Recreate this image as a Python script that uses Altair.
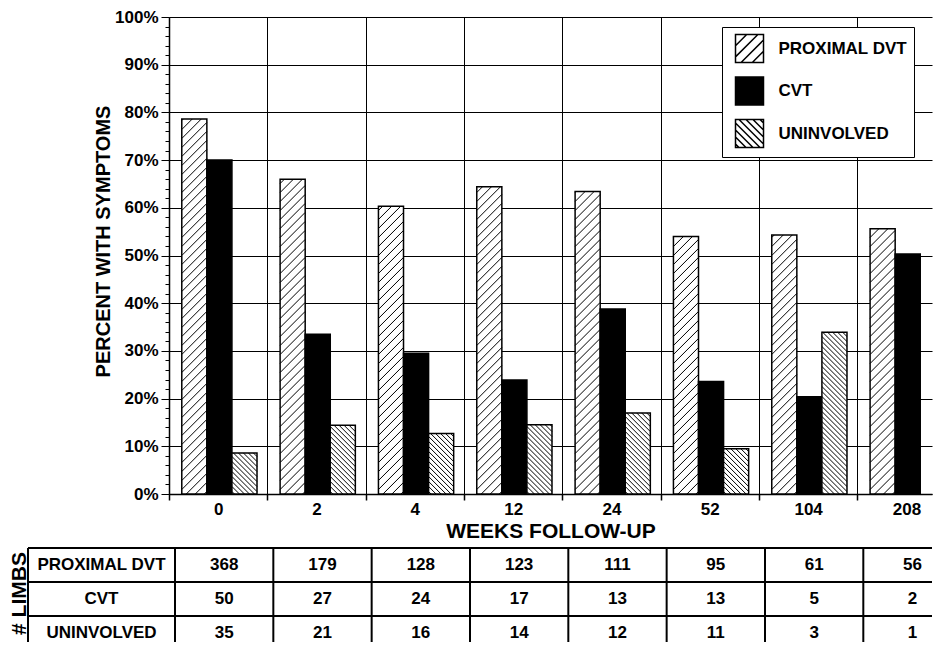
import json
import numpy as np
import pandas as pd
import altair as alt

# ---------------- data ----------------
weeks = ["0", "2", "4", "12", "24", "52", "104", "208"]
series = ["PROXIMAL DVT", "CVT", "UNINVOLVED"]
pct_proximal = [78.6, 66.0, 60.3, 64.4, 63.4, 54.0, 54.3, 55.6]
pct_cvt = [70.0, 33.5, 29.5, 23.9, 38.8, 23.6, 20.4, 50.3]
pct_uninvolved = [8.6, 14.4, 12.7, 14.5, 17.0, 9.5, 33.9, 0.0]
n_proximal = [368, 179, 128, 123, 111, 95, 61, 56]
n_cvt = [50, 27, 24, 17, 13, 13, 5, 2]
n_uninvolved = [35, 21, 16, 14, 12, 11, 3, 1]

# ---------------- layout / style ----------------
FONT = "Liberation Sans"
BAND_PX = 98.33
W, H = 763, 477
XMAX = W / BAND_PX              # visible part of the 8 week bands
SX = BAND_PX
SY = H / 100.0
GROUP_START = 0.13
BAR_W = 0.255

pct = {"PROXIMAL DVT": pct_proximal, "CVT": pct_cvt, "UNINVOLVED": pct_uninvolved}
hatch_style = {"PROXIMAL DVT": (9.0, 1), "UNINVOLVED": (5.0, -1)}

bar_rows, hatch_rows = [], []
for s_i, name in enumerate(series):
    for w_i, v in enumerate(pct[name]):
        x0 = w_i + GROUP_START + s_i * BAR_W
        x1 = x0 + BAR_W
        bar_rows.append({"series": name, "week": weeks[w_i], "x0": x0, "x1": x1, "pct": v})
        if name in hatch_style and v > 0:
            step, d = hatch_style[name]
            L, R, T = x0 * SX, x1 * SX, v * SY
            wpx = R - L
            if d > 0:
                ks = np.arange(np.floor(-wpx / step) - 1, np.ceil(T / step) + 1)
                for k in ks:
                    c = (k + 0.5) * step
                    xa, xb = max(L, L - c), min(R, L + T - c)
                    if xb - xa < 0.5:
                        continue
                    hatch_rows.append({"hx0": xa / SX, "hx1": xb / SX,
                                       "hy0": (xa - L + c) / SY, "hy1": (xb - L + c) / SY})
            else:
                ks = np.arange(-1, np.ceil((T + wpx) / step) + 1)
                for k in ks:
                    c = (k + 0.5) * step
                    xa, xb = max(L, L + c - T), min(R, L + c)
                    if xb - xa < 0.5:
                        continue
                    hatch_rows.append({"hx0": xa / SX, "hx1": xb / SX,
                                       "hy0": (c - (xa - L)) / SY, "hy1": (c - (xb - L)) / SY})

bars_df = pd.DataFrame(bar_rows)
hatch_df = pd.DataFrame(hatch_rows)

# legend swatch shapes (unit square with hatching)
def swatch_path(direction, offsets):
    p = "M-1,-1H1V1H-1Z"
    for c in offsets:
        xa, xb = max(-1, c - 1), min(1, c + 1)
        if direction > 0:   # "/" : x + y = c
            p += f"M{xa:.3f},{c - xa:.3f}L{xb:.3f},{c - xb:.3f}"
        else:               # "\" : y = x - c
            p += f"M{xa:.3f},{xa - c:.3f}L{xb:.3f},{xb - c:.3f}"
    return p

path_fwd = swatch_path(1, [-1.2, -0.4, 0.4, 1.2])
path_back = swatch_path(-1, [-1.75, -1.25, -0.75, -0.25, 0.25, 0.75, 1.25, 1.75])

def make_legend():
    return alt.Legend(
        title=None, orient="none", legendX=553, legendY=10, direction="vertical",
        symbolSize=784, symbolStrokeColor="black", symbolStrokeWidth=1.5, symbolOffset=6,
        labelFont=FONT, labelFontSize=17, labelFontWeight="bold", labelColor="black",
        labelOffset=14, rowPadding=8.5, padding=6.5, strokeColor="black", fillColor="white",
    )

x_sc = alt.Scale(domain=[0, XMAX], nice=False, zero=False)
y_sc = alt.Scale(domain=[0, 100], nice=False, zero=False)

is_int = "abs(datum.value - round(datum.value)) < 0.01"
label_expr = ("abs(datum.value - round(datum.value)) < 0.01 ? '' : "
              + json.dumps(weeks) + "[floor(datum.value)]")

x_axis = alt.Axis(
    values=[i * 0.5 for i in range(16)],
    grid=True, gridColor="black", gridWidth=1,
    gridOpacity={"condition": {"test": is_int, "value": 1}, "value": 0},
    ticks=True, tickSize=6, tickColor="black", tickWidth=1.5,
    tickOpacity={"condition": {"test": is_int, "value": 1}, "value": 0},
    labelExpr=label_expr, labelOverlap=False, labelFlush=False, labelPadding=1.5,
    labelFont=FONT, labelFontSize=17, labelFontWeight="bold", labelColor="black",
    domainColor="black", domainWidth=1.5,
    title="WEEKS FOLLOW-UP", titleFont=FONT, titleFontSize=21, titleFontWeight="bold",
    titleColor="black", titlePadding=3,
)
y_axis = alt.Axis(
    values=list(range(0, 101, 2)),
    grid=True, gridColor="black", gridWidth=1,
    gridOpacity={"condition": {"test": "datum.value % 10 === 0", "value": 1}, "value": 0},
    ticks=True, tickColor="black", tickWidth=1,
    tickSize={"condition": {"test": "datum.value % 10 === 0", "value": 8}, "value": 4},
    labelExpr="datum.value % 10 === 0 ? datum.value + '%' : ''",
    labelOverlap=False, labelFlush=False, labelPadding=3,
    labelFont=FONT, labelFontSize=17, labelFontWeight="bold", labelColor="black",
    domainColor="black", domainWidth=1.5,
    title="PERCENT WITH SYMPTOMS", titleFont=FONT, titleFontSize=20, titleFontWeight="bold",
    titleColor="black", titlePadding=1, titleY=224,
)

fill_scale = alt.Scale(domain=series, range=["white", "black", "white"])
shape_scale = alt.Scale(domain=series, range=[path_fwd, path_fwd, path_back])

bars_layer = alt.Chart(bars_df).transform_filter("datum.pct > 0").mark_bar(
    stroke="black", strokeWidth=1.5, clip=True).encode(
    x=alt.X("x0:Q", scale=x_sc, axis=x_axis),
    x2="x1:Q",
    y=alt.Y("pct:Q", scale=y_sc, axis=y_axis),
    y2=alt.datum(0),
    fill=alt.Fill("series:N", scale=fill_scale, legend=make_legend()),
)
hatch_layer = alt.Chart(hatch_df).mark_rule(color="black", strokeWidth=1, clip=True).encode(
    x=alt.X("hx0:Q", scale=x_sc, axis=x_axis),
    x2="hx1:Q",
    y=alt.Y("hy0:Q", scale=y_sc, axis=y_axis),
    y2="hy1:Q",
)
# legend-only layer: carries the hatched swatch shapes (no marks drawn)
key_layer = alt.Chart(bars_df).transform_filter("false").mark_point(
    filled=True, opacity=1, stroke="black", strokeWidth=1.5).encode(
    x=alt.X("x0:Q", scale=x_sc, axis=x_axis),
    y=alt.Y("pct:Q", scale=y_sc, axis=y_axis),
    fill=alt.Fill("series:N", scale=fill_scale, legend=make_legend()),
    shape=alt.Shape("series:N", scale=shape_scale, legend=make_legend()),
)
main = alt.layer(bars_layer, hatch_layer, key_layer).properties(width=W, height=H)

# ---------------- table of limb counts ----------------
TX0 = -0.061
LABEL_LEFT = -1.495
ROW_PX = 34
TH = 94
YMAX = TH / ROW_PX

text_rows = []
for r_i, (name, counts) in enumerate(zip(series, [n_proximal, n_cvt, n_uninvolved])):
    text_rows.append({"tx": LABEL_LEFT / 2, "ty": r_i + 0.5, "txt": name})
    for c_i, n in enumerate(counts):
        text_rows.append({"tx": c_i + 0.5, "ty": r_i + 0.5, "txt": str(n)})
text_df = pd.DataFrame(text_rows)
hrule_df = pd.DataFrame({"ry": [0, 1, 2], "rx": LABEL_LEFT, "rx2": TX0 + XMAX})
vrule_df = pd.DataFrame({"rx": [LABEL_LEFT] + list(range(len(weeks))), "ry": 0.0, "ry2": YMAX})

tx_sc = alt.Scale(domain=[TX0, TX0 + XMAX], nice=False, zero=False)
ty_sc = alt.Scale(domain=[0, YMAX], nice=False, zero=False, reverse=True)
ty_axis = alt.Axis(title="# LIMBS", labels=False, ticks=False, domain=False, grid=False,
                   titleFont=FONT, titleFontSize=21, titleFontWeight="bold",
                   titleColor="black", titlePadding=140, titleY=45)

t_text = alt.Chart(text_df).mark_text(font=FONT, fontSize=17, fontWeight="bold", color="black",
                                      align="center", baseline="middle").encode(
    x=alt.X("tx:Q", scale=tx_sc, axis=None),
    y=alt.Y("ty:Q", scale=ty_sc, axis=ty_axis),
    text="txt:N",
)
t_h = alt.Chart(hrule_df).mark_rule(color="black", strokeWidth=2).encode(
    x=alt.X("rx:Q", scale=tx_sc, axis=None), x2="rx2:Q",
    y=alt.Y("ry:Q", scale=ty_sc, axis=ty_axis),
)
t_v = alt.Chart(vrule_df).mark_rule(color="black", strokeWidth=2).encode(
    x=alt.X("rx:Q", scale=tx_sc, axis=None),
    y=alt.Y("ry:Q", scale=ty_sc, axis=ty_axis), y2="ry2:Q",
)
table = alt.layer(t_text, t_h, t_v).properties(width=W, height=TH)

chart = (
    alt.vconcat(main, table, spacing=5)
    .properties(padding={"left": 0, "top": 0, "right": 0, "bottom": 0})
    .resolve_scale(x="independent", y="independent")
    .resolve_legend(fill="independent", shape="independent")
    .configure_view(stroke=None)
)
chart.save("out.html", embed_options={"renderer": "svg", "actions": False})
